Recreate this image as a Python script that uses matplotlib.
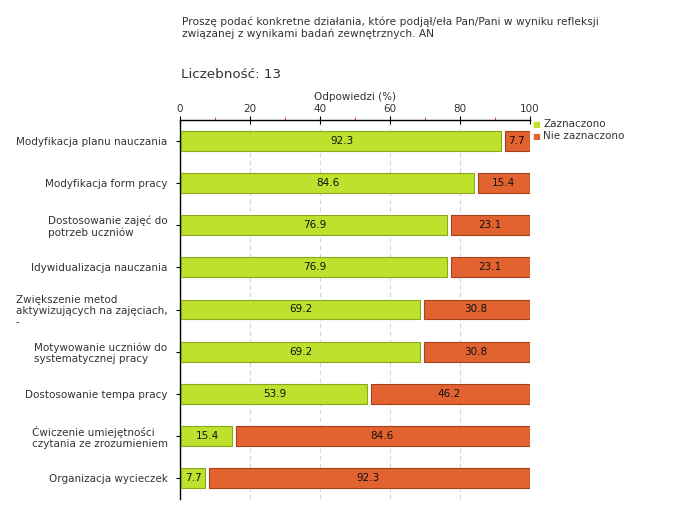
import matplotlib
from matplotlib import pyplot as plt
from matplotlib.ticker import MultipleLocator

matplotlib.rc("font", family="DejaVu Sans", size=7.5)

# dane z wykresu
kategorie = ["Modyfikacja planu nauczania",
             "Modyfikacja form pracy",
             "Dostosowanie zajęć do\npotrzeb uczniów",
             "Idywidualizacja nauczania",
             "Zwiększenie metod\naktywizujących na zajęciach,\n-",
             "Motywowanie uczniów do\nsystematycznej pracy",
             "Dostosowanie tempa pracy",
             "Ćwiczenie umiejętności\nczytania ze zrozumieniem",
             "Organizacja wycieczek"]
zaznaczono = [92.3, 84.6, 76.9, 76.9, 69.2, 69.2, 53.9, 15.4, 7.7]
nie_zaznaczono = [7.7, 15.4, 23.1, 23.1, 30.8, 30.8, 46.2, 84.6, 92.3]

zielony = "#bde12d"
pomaranczowy = "#e2632f"

fig = plt.figure(figsize=(6.8, 5.2), dpi=100)
ax = fig.add_axes([180/680, 1-499/520, 350/680, 379/520])

y = list(range(len(kategorie)))
gap = 1.2  # przerwa miedzy slupkami
ax.barh(y, [z - gap/2 - 0.4 for z in zaznaczono], left=0.4, height=0.47,
        color=zielony, edgecolor="#8ba81c", linewidth=0.8, zorder=3)
ax.barh(y, [n - gap/2 for n in nie_zaznaczono],
        left=[z + gap/2 for z in zaznaczono], height=0.47,
        color=pomaranczowy, edgecolor="#a8401c", linewidth=0.8, zorder=3)

for i in y:
    ax.text(zaznaczono[i]/2, i, "%.1f" % zaznaczono[i], ha="center",
            va="center", fontsize=7.5, color="#111111", zorder=4)
    ax.text(zaznaczono[i] + nie_zaznaczono[i]/2, i, "%.1f" % nie_zaznaczono[i],
            ha="center", va="center", fontsize=7.5, color="#111111", zorder=4)

ax.set_xlim(0, 100)
ax.set_ylim(8.5, -0.5)
ax.set_yticks(y)
ax.set_yticklabels(kategorie, fontsize=7.5, color="#333333", linespacing=1.15)
for lab in ax.get_yticklabels():
    lab.set_multialignment("left")
ax.tick_params(axis="y", length=3, color="black", pad=6)

ax.xaxis.tick_top()
ax.xaxis.set_label_position("top")
ax.set_xticks([0, 20, 40, 60, 80, 100])
ax.xaxis.set_minor_locator(MultipleLocator(10))
ax.tick_params(axis="x", which="major", direction="inout", length=6,
               color="black", labelsize=7.5, labelcolor="#333333", pad=1)
ax.tick_params(axis="x", which="minor", direction="out", length=2.5,
               color="#cc2222")
ax.set_xlabel("Odpowiedzi (%)", fontsize=7.5, color="#333333", labelpad=3)

ax.grid(axis="x", which="major", linestyle=(0, (4, 3)), color="#d5d5d5",
        linewidth=0.8, zorder=0)
for s in ["right", "bottom"]:
    ax.spines[s].set_visible(False)
ax.spines["top"].set_linewidth(1)
ax.spines["left"].set_linewidth(1)

fig.text(182/680, 1-22/520, "Proszę podać konkretne działania, które podjął/eła Pan/Pani w wyniku refleksji",
         fontsize=7.7, color="#333333", va="center")
fig.text(182/680, 1-34/520, "związanej z wynikami badań zewnętrznych. AN",
         fontsize=7.7, color="#333333", va="center")
fig.text(181/680, 1-75/520, "Liczebność: 13", fontsize=9.7, color="#333333",
         va="center")

# legenda
fig.text(532/680, 1-124/520, "■", fontsize=6, color=zielony, va="center")
fig.text(543/680, 1-124/520, "Zaznaczono", fontsize=7.5, color="#333333", va="center")
fig.text(532/680, 1-136/520, "■", fontsize=6, color=pomaranczowy, va="center")
fig.text(543/680, 1-136/520, "Nie zaznaczono", fontsize=7.5, color="#333333", va="center")

plt.savefig("out.png", dpi=100)
